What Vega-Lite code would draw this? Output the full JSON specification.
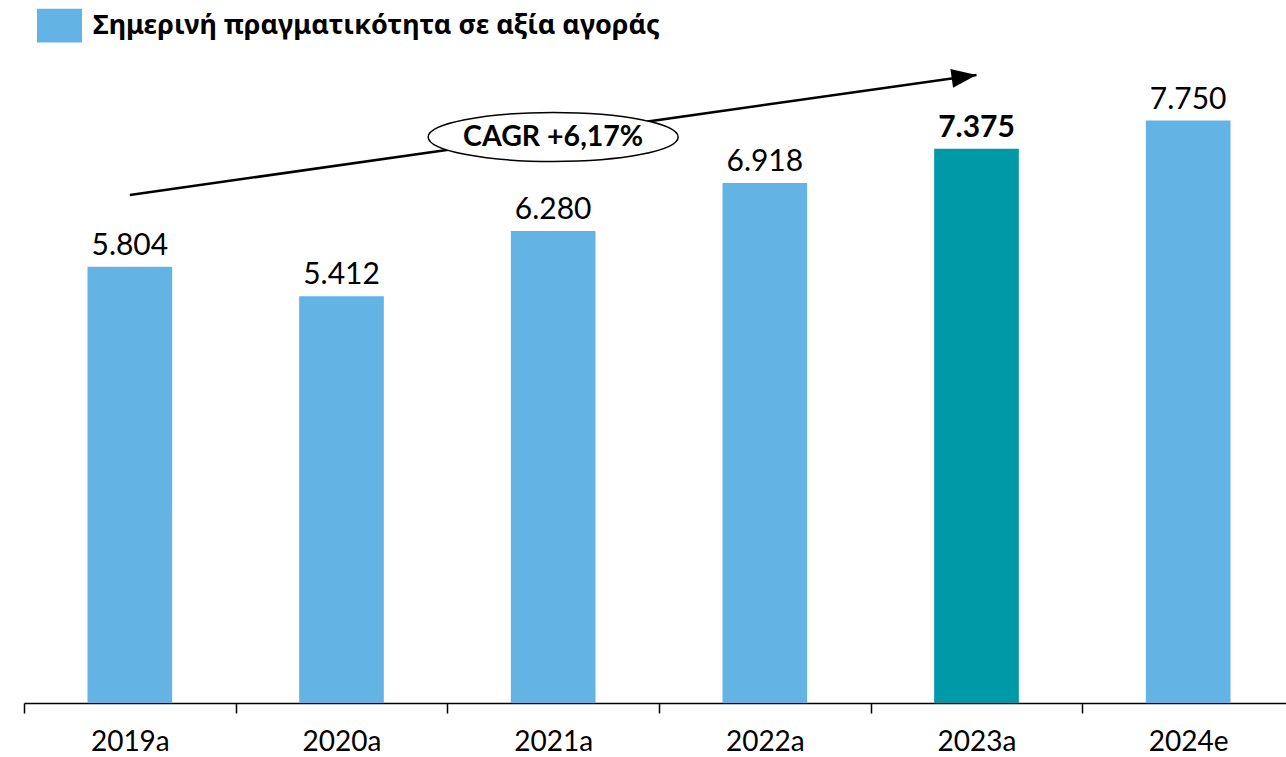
{
  "$schema": "https://vega.github.io/schema/vega-lite/v6.json",
  "width": 1262,
  "height": 699,
  "autosize": {"type": "none"},
  "padding": {"left": 24, "top": 4, "right": 0, "bottom": 54},
  "background": "white",
  "config": {
    "view": {"stroke": null},
    "locale": {"number": {"decimal": ",", "thousands": ".", "grouping": [3], "currency": ["", " €"]}}
  },
  "data": {
    "values": [
      {"year": "2019a", "value": 5804, "series": "Σημερινή πραγματικότητα σε αξία αγοράς"},
      {"year": "2020a", "value": 5412, "series": "Σημερινή πραγματικότητα σε αξία αγοράς"},
      {"year": "2021a", "value": 6280, "series": "Σημερινή πραγματικότητα σε αξία αγοράς"},
      {"year": "2022a", "value": 6918, "series": "Σημερινή πραγματικότητα σε αξία αγοράς"},
      {"year": "2023a", "value": 7375, "series": "Σημερινή πραγματικότητα σε αξία αγοράς"},
      {"year": "2024e", "value": 7750, "series": "Σημερινή πραγματικότητα σε αξία αγοράς"}
    ]
  },
  "encoding": {
    "x": {
      "field": "year", "type": "nominal", "sort": null,
      "scale": {"range": [0, 1270], "paddingInner": 0, "paddingOuter": 0},
      "axis": {
        "title": null, "domainColor": "#000000", "domainWidth": 1.5,
        "tickBand": "extent", "tickColor": "#000000", "tickWidth": 1.5, "tickSize": 10,
        "labelFont": "Lato", "labelFontSize": 28, "labelColor": "#000000",
        "labelPadding": 15, "labelAngle": 0
      }
    },
    "y": {
      "field": "value", "type": "quantitative",
      "scale": {"domain": [0, 9300], "nice": false},
      "axis": null
    }
  },
  "layer": [
    {
      "mark": {"type": "bar", "width": {"band": 0.4}},
      "encoding": {
        "color": {
          "field": "series", "type": "nominal",
          "scale": {"range": ["#63B4E4"]},
          "condition": {"test": "datum.year === '2023a'", "value": "#0099A8"},
          "legend": {
            "title": null, "orient": "none", "legendX": 13, "legendY": -1,
            "symbolType": "M-1,-0.75 L1,-0.75 L1,0.75 L-1,0.75 Z", "symbolSize": 2025, "symbolStrokeWidth": 0,
            "labelFont": "Noto Sans", "labelFontWeight": "bold", "labelFontSize": 27,
            "labelColor": "#000000", "labelOffset": 11, "padding": 0, "labelLimit": 1000
          }
        }
      }
    },
    {
      "transform": [{"filter": "datum.year !== '2023a'"}],
      "mark": {"type": "text", "font": "Lato", "fontSize": 30, "color": "#000000", "baseline": "alphabetic", "dy": -12},
      "encoding": {"text": {"field": "value", "type": "quantitative", "format": ",d"}}
    },
    {
      "transform": [{"filter": "datum.year === '2023a'"}],
      "mark": {"type": "text", "font": "Lato", "fontSize": 30, "fontWeight": "bold", "color": "#000000", "baseline": "alphabetic", "dy": -12},
      "encoding": {"text": {"field": "value", "type": "quantitative", "format": ",d"}}
    },
    {
      "data": {"values": [{"from": "2019a", "to": "2023a", "y1": 6759, "y2": 8356}]},
      "mark": {"type": "rule", "color": "#000000", "strokeWidth": 2.5},
      "encoding": {
        "x": {"field": "from", "type": "nominal"},
        "x2": {"field": "to"},
        "y": {"field": "y1", "type": "quantitative"},
        "y2": {"field": "y2"}
      }
    },
    {
      "data": {"values": [{"to": "2023a", "y2": 8356}]},
      "mark": {"type": "point", "shape": "M0,0 L-1,-0.38 L-1,0.38 Z", "size": 2500, "angle": 352, "filled": true, "color": "#000000", "opacity": 1},
      "encoding": {
        "x": {"field": "to", "type": "nominal"},
        "y": {"field": "y2", "type": "quantitative"}
      }
    },
    {
      "data": {"values": [{"pos": "2021a", "v": 7531, "label": "CAGR +6,17%"}]},
      "layer": [
        {
          "mark": {"type": "point", "shape": "M-1,0 C-1,-0.108 -0.552,-0.196 0,-0.196 C0.552,-0.196 1,-0.108 1,0 C1,0.108 0.552,0.196 0,0.196 C-0.552,0.196 -1,0.108 -1,0 Z", "size": 62500, "filled": true, "fill": "#ffffff", "stroke": "#000000", "strokeWidth": 1.5, "opacity": 1},
          "encoding": {
            "x": {"field": "pos", "type": "nominal"},
            "y": {"field": "v", "type": "quantitative"}
          }
        },
        {
          "mark": {"type": "text", "font": "Lato", "fontSize": 28.5, "fontWeight": "bold", "color": "#000000", "baseline": "middle"},
          "encoding": {
            "x": {"field": "pos", "type": "nominal"},
            "y": {"field": "v", "type": "quantitative"},
            "text": {"field": "label"}
          }
        }
      ]
    }
  ]
}
